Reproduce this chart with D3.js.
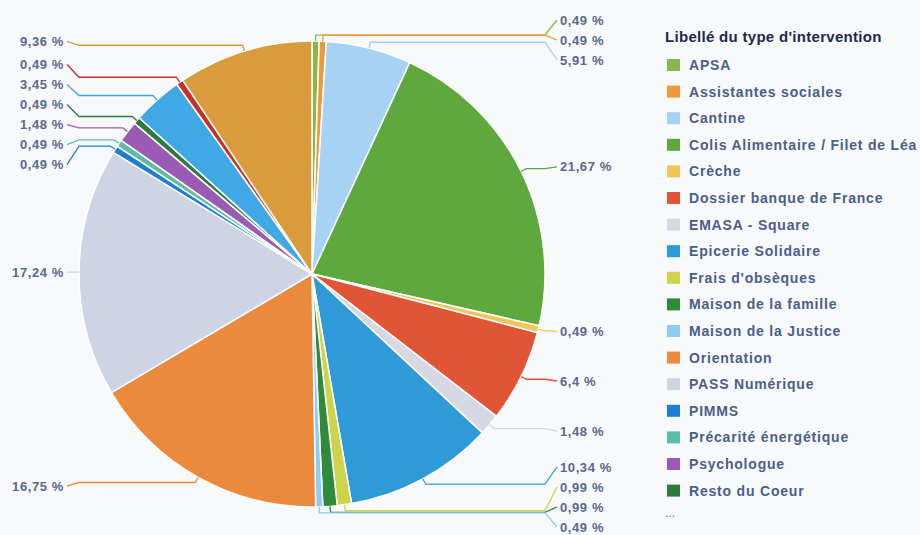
<!DOCTYPE html>
<html>
<head>
<meta charset="utf-8">
<script src="https://cdnjs.cloudflare.com/ajax/libs/d3/7.8.5/d3.min.js"></script>
<style>
    body { margin: 0; background: #f8f9fb; }
    svg { display: block; font-family: "Liberation Sans", Arial, sans-serif; }
</style>
</head>
<body>
<div id="chart"></div>
<script>
// Slices, clockwise from 12 o'clock
const categories = [
    'APSA', 'Assistantes sociales', 'Cantine', 'Colis Alimentaire / Filet de Léa',
    'Crèche', 'Dossier banque de France', 'EMASA - Square', 'Epicerie Solidaire',
    "Frais d'obsèques", 'Maison de la famille', 'Maison de la Justice', 'Orientation',
    'PASS Numérique', 'PIMMS', 'Précarité énergétique', 'Psychologue', 'Resto du Coeur',
    'Autre (1)', 'Autre (2)', 'Autre (3)'
]
const percents = [
    0.49, 0.49, 5.91, 21.67,
    0.49, 6.4, 1.48, 10.34,
    0.99, 0.99, 0.49, 16.75,
    17.24, 0.49, 0.49, 1.48, 0.49,
    3.45, 0.49, 9.36
]
const colors = [
    '#86b84b', '#ec9a3a', '#a6d3f4', '#5ea83e',
    '#f0c65a', '#df5536', '#d6d9e3', '#2e9ad7',
    '#cdd34a', '#2f8a3c', '#8fcdf0', '#eb893c',
    '#cfd4e5', '#1c7fd1', '#5cbca6', '#9a5bb4', '#2d7a3f',
    '#40a8e4', '#c8302c', '#d99b3b'
]
const legendTitle = "Libellé du type d'intervention"
const legendCount = 17

let width = 920
let height = 535
let cx = 312
let cy = 274
let r = 233
let step = 20
let minY = 20 - cy
let maxY = 527 - cy

let svg = d3.select('#chart').append('svg')
    .attr('width', width)
    .attr('height', height)

let rows = categories.map((c, i) => ({ name: c, value: percents[i], color: colors[i] }))

let pie = d3.pie().sort(null).value(d => d.value)
let arc = d3.arc().innerRadius(0).outerRadius(r)
let arcs = pie(rows)

let g = svg.append('g').attr('transform', 'translate(' + cx + ',' + cy + ')')

g.selectAll('path.slice')
    .data(arcs)
    .enter()
    .append('path')
    .attr('class', 'slice')
    .attr('d', arc)
    .attr('fill', d => d.data.color)
    .attr('stroke', '#fff')
    .attr('stroke-width', 1.5)

// point at angle a (from 12 o'clock, clockwise) and radius rad
function pt(a, rad) {
    return [rad * Math.sin(a), -rad * Math.cos(a)]
}

arcs.forEach(d => {
    d.mid = (d.startAngle + d.endAngle) / 2
    d.right = d.mid < Math.PI
    d.edge = pt(d.mid, r)
    d.elbow = pt(d.mid, r + 6)
    d.target = pt(d.mid, r + 10)[1]
})

// group overlapping labels and center each group on its targets
function layout(items) {
    items.sort((a, b) => a.target - b.target)
    let clusters = items.map(d => ({ items: [d], sum: d.target }))
    let place = function (c) {
        let n = c.items.length
        let top = c.sum / n - (n - 1) * step / 2
        top = Math.max(minY, Math.min(maxY - (n - 1) * step, top))
        c.top = top
    }
    clusters.forEach(place)
    let changed = true
    while (changed) {
        changed = false
        for (let i = 0; i < clusters.length - 1; i++) {
            let a = clusters[i]
            let b = clusters[i + 1]
            if (a.top + a.items.length * step > b.top + 0.5) {
                a.items = a.items.concat(b.items)
                a.sum += b.sum
                clusters.splice(i + 1, 1)
                place(a)
                changed = true
                break
            }
        }
    }
    clusters.forEach(c => c.items.forEach((d, k) => { d.ly = c.top + k * step }))
}

layout(arcs.filter(d => d.right))
layout(arcs.filter(d => !d.right))

let line = d3.line()

let leaders = g.append('g').attr('class', 'leaders')
leaders.selectAll('path')
    .data(arcs)
    .enter()
    .append('path')
    .attr('d', function (d) {
        let s = d.right ? 1 : -1
        let pts = [d.edge, d.elbow]
        if (s * d.elbow[0] < r) {
            pts.push([s * r, d.elbow[1]])
        }
        pts.push([s * (r + 12), d.ly])
        return line(pts)
    })
    .attr('fill', 'none')
    .attr('stroke', d => d.data.color)
    .attr('stroke-width', 1.3)

g.append('g').attr('class', 'labels')
    .selectAll('text')
    .data(arcs)
    .enter()
    .append('text')
    .attr('x', d => (d.right ? 1 : -1) * (r + 15))
    .attr('y', d => d.ly)
    .attr('dy', '0.35em')
    .attr('text-anchor', d => d.right ? 'start' : 'end')
    .attr('font-size', 13)
    .attr('font-weight', 'bold')
    .attr('letter-spacing', 0.6)
    .attr('fill', '#5a6889')
    .text(d => String(d.data.value).replace('.', ',') + ' %')

// legend
let legend = svg.append('g').attr('transform', 'translate(665,0)')

legend.append('text')
    .attr('x', 0)
    .attr('y', 37)
    .attr('dy', '0.35em')
    .attr('font-size', 15)
    .attr('font-weight', 'bold')
    .attr('letter-spacing', 0.3)
    .attr('fill', '#1d2a48')
    .text(legendTitle)

let ly = d3.scaleLinear().domain([0, 1]).range([65, 91.6])

let items = legend.selectAll('g.item')
    .data(rows.slice(0, legendCount))
    .enter()
    .append('g')
    .attr('class', 'item')
    .attr('transform', (d, i) => 'translate(0,' + ly(i) + ')')

items.append('rect')
    .attr('x', 2)
    .attr('y', -6)
    .attr('width', 13)
    .attr('height', 12)
    .attr('fill', d => d.color)

items.append('text')
    .attr('x', 24)
    .attr('y', 0)
    .attr('dy', '0.35em')
    .attr('font-size', 14)
    .attr('font-weight', 'bold')
    .attr('letter-spacing', 0.8)
    .attr('fill', '#4b5e88')
    .text(d => d.name)

legend.append('text')
    .attr('x', 0)
    .attr('y', ly(legendCount))
    .attr('font-size', 12)
    .attr('fill', '#6a7690')
    .text('...')
</script>
</body>
</html>
